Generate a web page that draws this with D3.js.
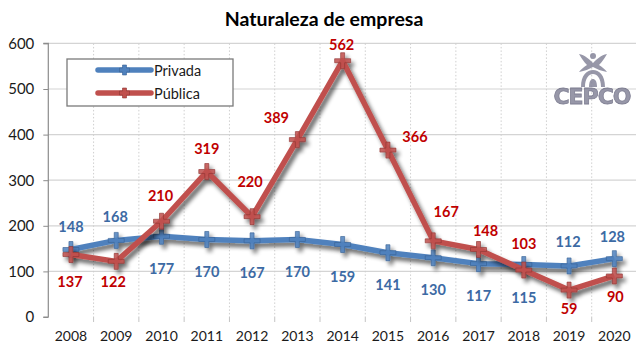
<!DOCTYPE html>
<html>
<head>
<meta charset="utf-8">
<script src="https://cdn.jsdelivr.net/npm/d3@7/dist/d3.min.js"></script>
<style>
  html, body { margin: 0; padding: 0; background: #fff; }
  svg { display: block; font-family: Lato, "Open Sans", sans-serif; }
</style>
</head>
<body>
<svg id="chart" width="636" height="346"></svg>
<script>
// Yearly counts by company type
const years = ["2008","2009","2010","2011","2012","2013","2014","2015","2016","2017","2018","2019","2020"];
const privada = [148,168,177,170,167,170,159,141,130,117,115,112,128];
const publica = [137,122,210,319,220,389,562,366,167,148,103,59,90];
const yTicks = [0,100,200,300,400,500,600];

// Label placement (pixel offsets from each point)
const privadaLabelDx = [0,-1,0,0,0,0,0,0,0,0,0,-1,-2];
const privadaLabelDy = [-23,-24,32,32,32,32,32,32,32,32,33,-24,-22];
const publicaLabelDx = [-1,-3,-1,0,-2,-21,-1,27,13,7,0,0,1];
const publicaLabelDy = [27,20,-26,-23,-35,-22,-16,-14,-29,-19,-27,18,21];

const svg = d3.select("#chart");
const W = 636, H = 346;
const plotLeft = 48.3, plotRight = 637, plotTop = 43.4, plotBottom = 317;

const x = d3.scaleBand().domain(years).range([plotLeft, plotRight]);
const y = d3.scaleLinear().domain([0, 600]).range([plotBottom, plotTop]);
const cx = d => x(d) + x.bandwidth() / 2;

const defs = svg.append("defs");
const sh = defs.append("filter").attr("id", "shadow")
  .attr("x", "-20%").attr("y", "-20%").attr("width", "140%").attr("height", "140%");
sh.append("feGaussianBlur").attr("in", "SourceAlpha").attr("stdDeviation", 2.3).attr("result", "b");
sh.append("feOffset").attr("in", "b").attr("dx", 3).attr("dy", 3.5).attr("result", "o");
sh.append("feComponentTransfer").attr("in", "o").attr("result", "t")
  .append("feFuncA").attr("type", "linear").attr("slope", 0.6);
const m = sh.append("feMerge");
m.append("feMergeNode").attr("in", "t");
m.append("feMergeNode").attr("in", "SourceGraphic");

const axShadow = defs.append("filter").attr("id", "axshadow")
  .attr("x", "-10%").attr("y", "-50%").attr("width", "120%").attr("height", "300%");
axShadow.append("feGaussianBlur").attr("in", "SourceAlpha").attr("stdDeviation", 1.6).attr("result", "b");
axShadow.append("feOffset").attr("in", "b").attr("dx", 2).attr("dy", 3).attr("result", "o");
axShadow.append("feComponentTransfer").attr("in", "o").attr("result", "t")
  .append("feFuncA").attr("type", "linear").attr("slope", 0.45);
const m2 = axShadow.append("feMerge");
m2.append("feMergeNode").attr("in", "t");
m2.append("feMergeNode").attr("in", "SourceGraphic");

// Title
svg.append("text").attr("x", 324).attr("y", 18).attr("text-anchor", "middle")
  .attr("dominant-baseline", "central").attr("font-size", 19.5).attr("font-weight", 700)
  .attr("fill", "#000").text("Naturaleza de empresa");

// Horizontal grid
svg.append("g").selectAll("line").data(yTicks.filter(d => d > 0)).join("line")
  .attr("x1", plotLeft).attr("x2", W).attr("y1", d => y(d)).attr("y2", d => y(d))
  .attr("stroke", "#d4d4d4").attr("stroke-width", 1.2);

// Vertical dotted grid at category boundaries
svg.append("g").selectAll("line").data(years.slice(1)).join("line")
  .attr("x1", d => x(d)).attr("x2", d => x(d)).attr("y1", plotTop).attr("y2", plotBottom)
  .attr("stroke", "#cfcfcf").attr("stroke-width", 1).attr("stroke-dasharray", "1.5,2");

// Axes
const yAxis = svg.append("g").attr("transform", `translate(${plotLeft},0)`)
  .call(d3.axisLeft(y).tickValues(yTicks).tickSize(5).tickPadding(9));
yAxis.select(".domain").attr("stroke", "#8c8c8c").attr("stroke-width", 1.2)
  .attr("d", `M-5,${plotBottom}H0V${plotTop}H-5`);
yAxis.selectAll(".tick line").attr("stroke", "#8c8c8c");
yAxis.selectAll(".tick text").attr("font-size", 15).attr("fill", "#1a1a1a")
  .attr("font-family", "Lato, sans-serif");

const xAxis = svg.append("g").attr("transform", `translate(0,${plotBottom})`)
  .call(d3.axisBottom(x).tickSize(0).tickPadding(14));
xAxis.select(".domain").attr("stroke", "#b0b0b0").attr("stroke-width", 1.5)
  .attr("filter", "url(#axshadow)");
xAxis.selectAll(".tick text").attr("font-size", 14).attr("fill", "#1a1a1a")
  .attr("font-family", "Lato, sans-serif");
xAxis.append("g").selectAll("line").data(years.slice(1)).join("line")
  .attr("x1", d => x(d)).attr("x2", d => x(d)).attr("y1", 0).attr("y2", 5)
  .attr("stroke", "#c4c4c4");

// Watermark logo
const logo = svg.append("g").attr("fill", "#85859a").attr("opacity", 0.85);
const lg = logo.append("g").attr("transform", "translate(593,67)");
lg.append("path").attr("d", "M-14,-13 C-8,-12 -4,-8 0,-4 C4,-8 8,-12 14,-13 C11,-8 9,-5 6,-2 C9,0 12,2 14,5 C8,4 4,2 0,0 C-4,2 -8,4 -14,5 C-12,2 -9,0 -6,-2 C-9,-5 -11,-8 -14,-13 Z");
lg.append("circle").attr("cx", 0).attr("cy", -11).attr("r", 3);
lg.append("path").attr("d", "M-12,20 C-12,8 -6,3 0,3 C6,3 12,8 12,20 L8,20 C8,11 4,7 0,7 C-4,7 -8,11 -8,20 Z");
lg.append("path").attr("d", "M-4,20 C-4,14 -2,12 0,12 C2,12 4,14 4,20 Z");
logo.append("text").attr("x", 592).attr("y", 104).attr("text-anchor", "middle")
  .attr("font-size", 22).attr("font-weight", 900).attr("letter-spacing", -1)
  .attr("font-family", "'DejaVu Sans', sans-serif")
  .attr("stroke", "#6a6a80").attr("stroke-width", 0.8).text("CEPCO");

// Series lines
const line = d3.line().x((d, i) => cx(years[i])).y(d => y(d));
const series = [
  { name: "Privada", values: privada, color: "#4F81BD", dark: "#3a6396", label: "#3C6AA4", dx: privadaLabelDx, dy: privadaLabelDy },
  { name: "Pública", values: publica, color: "#C0504D", dark: "#8f3633", label: "#C00000", dx: publicaLabelDx, dy: publicaLabelDy }
];

const plus = (s) => `M${-2},${-s}H2V-2H${s}V2H2V${s}H-2V2H${-s}V-2H-2Z`;

series.forEach(s => {
  const g = svg.append("g").attr("filter", "url(#shadow)");
  g.append("path").datum(s.values).attr("d", line)
    .attr("fill", "none").attr("stroke", s.color).attr("stroke-width", 5.5)
    .attr("stroke-linejoin", "round");
  g.selectAll("path.mk").data(s.values).join("path").attr("class", "mk")
    .attr("transform", (d, i) => `translate(${cx(years[i])},${y(d)})`)
    .attr("d", plus(8)).attr("fill", s.color).attr("fill-opacity", 0.85)
    .attr("stroke", s.dark).attr("stroke-width", 0.8).attr("stroke-opacity", 0.8);
});

series.forEach(s => {
  svg.append("g").selectAll("text").data(s.values).join("text")
    .attr("x", (d, i) => cx(years[i]) + s.dx[i])
    .attr("y", (d, i) => y(d) + s.dy[i])
    .attr("text-anchor", "middle").attr("dominant-baseline", "central")
    .attr("font-size", 14.5).attr("font-weight", 700).attr("fill", s.label)
    .text(d => d);
});

// Legend
const leg = svg.append("g");
leg.append("rect").attr("x", 67).attr("y", 59).attr("width", 166).attr("height", 47)
  .attr("fill", "#fff").attr("stroke", "#7a7a7a").attr("stroke-width", 1.3);
series.forEach((s, i) => {
  const ly = 70 + i * 23;
  leg.append("line").attr("x1", 98).attr("x2", 151).attr("y1", ly).attr("y2", ly)
    .attr("stroke", s.color).attr("stroke-width", 5.5).attr("stroke-linecap", "round");
  leg.append("path").attr("transform", `translate(124.5,${ly})`).attr("d", plus(5))
    .attr("fill", s.color).attr("stroke", s.dark).attr("stroke-width", 0.6);
  leg.append("text").attr("x", 154).attr("y", ly).attr("dominant-baseline", "central")
    .attr("font-size", 14.5).attr("fill", "#1a1a1a").text(s.name);
});
</script>
</body>
</html>
